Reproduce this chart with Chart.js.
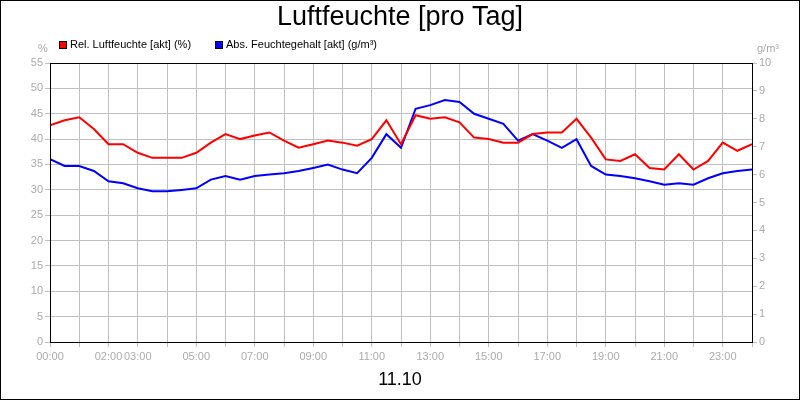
<!DOCTYPE html>
<html>
<head>
<meta charset="utf-8">
<script src="https://cdn.jsdelivr.net/npm/chart.js@4"></script>
<style>
  body { margin: 0; background: #fff; }
  #wrap { width: 800px; height: 400px; }
</style>
</head>
<body>
<div id="wrap"><canvas id="chart" width="800" height="400"></canvas></div>
<script>
// DATA (every half hour, 00:00 .. 24:00)

const hours = [0,0.5,1,1.5,2,2.5,3,3.5,4,4.5,5,5.5,6,6.5,7,7.5,8,8.5,9,9.5,10,10.5,11,11.5,12,12.5,13,13.5,14,14.5,15,15.5,16,16.5,17,17.5,18,18.5,19,19.5,20,20.5,21,21.5,22,22.5,23,23.5,24];

const relHumidity = [42.7,43.7,44.3,42,39,39,37.3,36.3,36.3,36.3,37.3,39.3,41,40,40.7,41.3,39.7,38.3,39,39.7,39.3,38.7,40,43.7,39,44.7,44,44.3,43.3,40.3,40,39.3,39.3,41,41.3,41.3,44,40.3,36,35.7,37,34.3,34,37,34,35.7,39.3,37.7,39];

const absHumidity = [6.55,6.31,6.31,6.13,5.76,5.69,5.51,5.4,5.4,5.45,5.51,5.82,5.95,5.82,5.95,6.0,6.05,6.13,6.24,6.36,6.18,6.05,6.6,7.45,6.96,8.36,8.49,8.67,8.6,8.18,8.0,7.82,7.22,7.45,7.22,6.96,7.27,6.31,6.0,5.95,5.87,5.76,5.64,5.69,5.64,5.87,6.05,6.13,6.18];

const shownHours = [0,2,3,5,7,9,11,13,15,17,19,21,23];
const leftTicks = [0,55];
const rightTicks = [0,10];

const seriesLabels = ['Rel. Luftfeuchte [akt] (%)', 'Abs. Feuchtegehalt [akt] (g/m³)'];
const seriesColors = ['#ff0000', '#0000ff'];

// PLUGIN: title, legend, unit labels, date, frame

const decor = {
  id: 'decor',
  afterDraw(chart) {
    const c = chart.ctx;
    c.save();
    c.fillStyle = '#000';
    c.font = '27px "Liberation Sans", Arial, sans-serif';
    c.textAlign = 'center';
    c.textBaseline = 'middle';
    c.fillText('Luftfeuchte [pro Tag]', 400, 18);
    c.font = '18px "Liberation Sans", Arial, sans-serif';
    c.fillText('11.10', 400, 380);

    c.font = '11px "Liberation Sans", Arial, sans-serif';
    c.textAlign = 'left';
    let x = 59;
    seriesLabels.forEach((lab, i) => {
      c.fillStyle = seriesColors[i];
      c.fillRect(x, 41, 8, 8);
      c.strokeStyle = '#000';
      c.lineWidth = 1;
      c.strokeRect(x + 0.5, 41.5, 7, 7);
      c.fillStyle = '#000';
      c.fillText(lab, x + 11, 45);
      x += 156;
    });

    c.fillStyle = '#aaa';
    c.textAlign = 'center';
    c.fillText('%', 43, 49);
    c.fillText('g/m³', 768, 49);

    c.strokeStyle = '#000';
    c.lineWidth = 1;
    c.strokeRect(0.5, 0.5, 799, 399);
    const a = chart.chartArea;
    c.strokeRect(a.left + 0.5, a.top + 0.5, a.right - a.left, a.bottom - a.top);
    c.restore();
  }
};

const tickFont = { family: '"Liberation Sans", Arial, sans-serif', size: 11 };

new Chart(document.getElementById('chart'), {
  type: 'line',
  data: {
    datasets: [
      {
        label: seriesLabels[0],
        data: hours.map((h, i) => ({ x: h, y: relHumidity[i] })),
        borderColor: seriesColors[0],
        yAxisID: 'y',
        borderWidth: 2,
        pointRadius: 0,
        tension: 0
      },
      {
        label: seriesLabels[1],
        data: hours.map((h, i) => ({ x: h, y: absHumidity[i] })),
        borderColor: seriesColors[1],
        yAxisID: 'y2',
        borderWidth: 2,
        pointRadius: 0,
        tension: 0
      }
    ]
  },
  options: {
    responsive: false,
    animation: false,
    layout: { padding: { top: 63, bottom: 38, left: 0, right: 0 } },
    plugins: { legend: { display: false }, title: { display: false }, tooltip: { enabled: false } },
    scales: {
      x: {
        type: 'linear',
        min: 0,
        max: 24,
        ticks: {
          stepSize: 1,
          autoSkip: false,
          maxRotation: 0,
          color: '#aaa',
          font: tickFont,
          callback: v => shownHours.includes(v) ? String(v).padStart(2, '0') + ':00' : ''
        },
        grid: { color: '#c0c0c0', tickLength: 5 },
        border: { color: '#000' },
        afterFit: s => { s.height = 20; }
      },
      y: {
        position: 'left',
        min: leftTicks[0],
        max: leftTicks[1],
        ticks: { stepSize: 5, color: '#aaa', font: tickFont, padding: 2 },
        grid: { color: '#c0c0c0', tickLength: 5 },
        border: { color: '#000' },
        afterFit: s => { s.width = 50; }
      },
      y2: {
        position: 'right',
        min: rightTicks[0],
        max: rightTicks[1],
        ticks: { stepSize: 1, color: '#aaa', font: tickFont, padding: 2 },
        grid: { drawOnChartArea: false, color: '#c0c0c0', tickLength: 5 },
        border: { color: '#000' },
        afterFit: s => { s.width = 48; }
      }
    }
  },
  plugins: [decor]
});
</script>
</body>
</html>
